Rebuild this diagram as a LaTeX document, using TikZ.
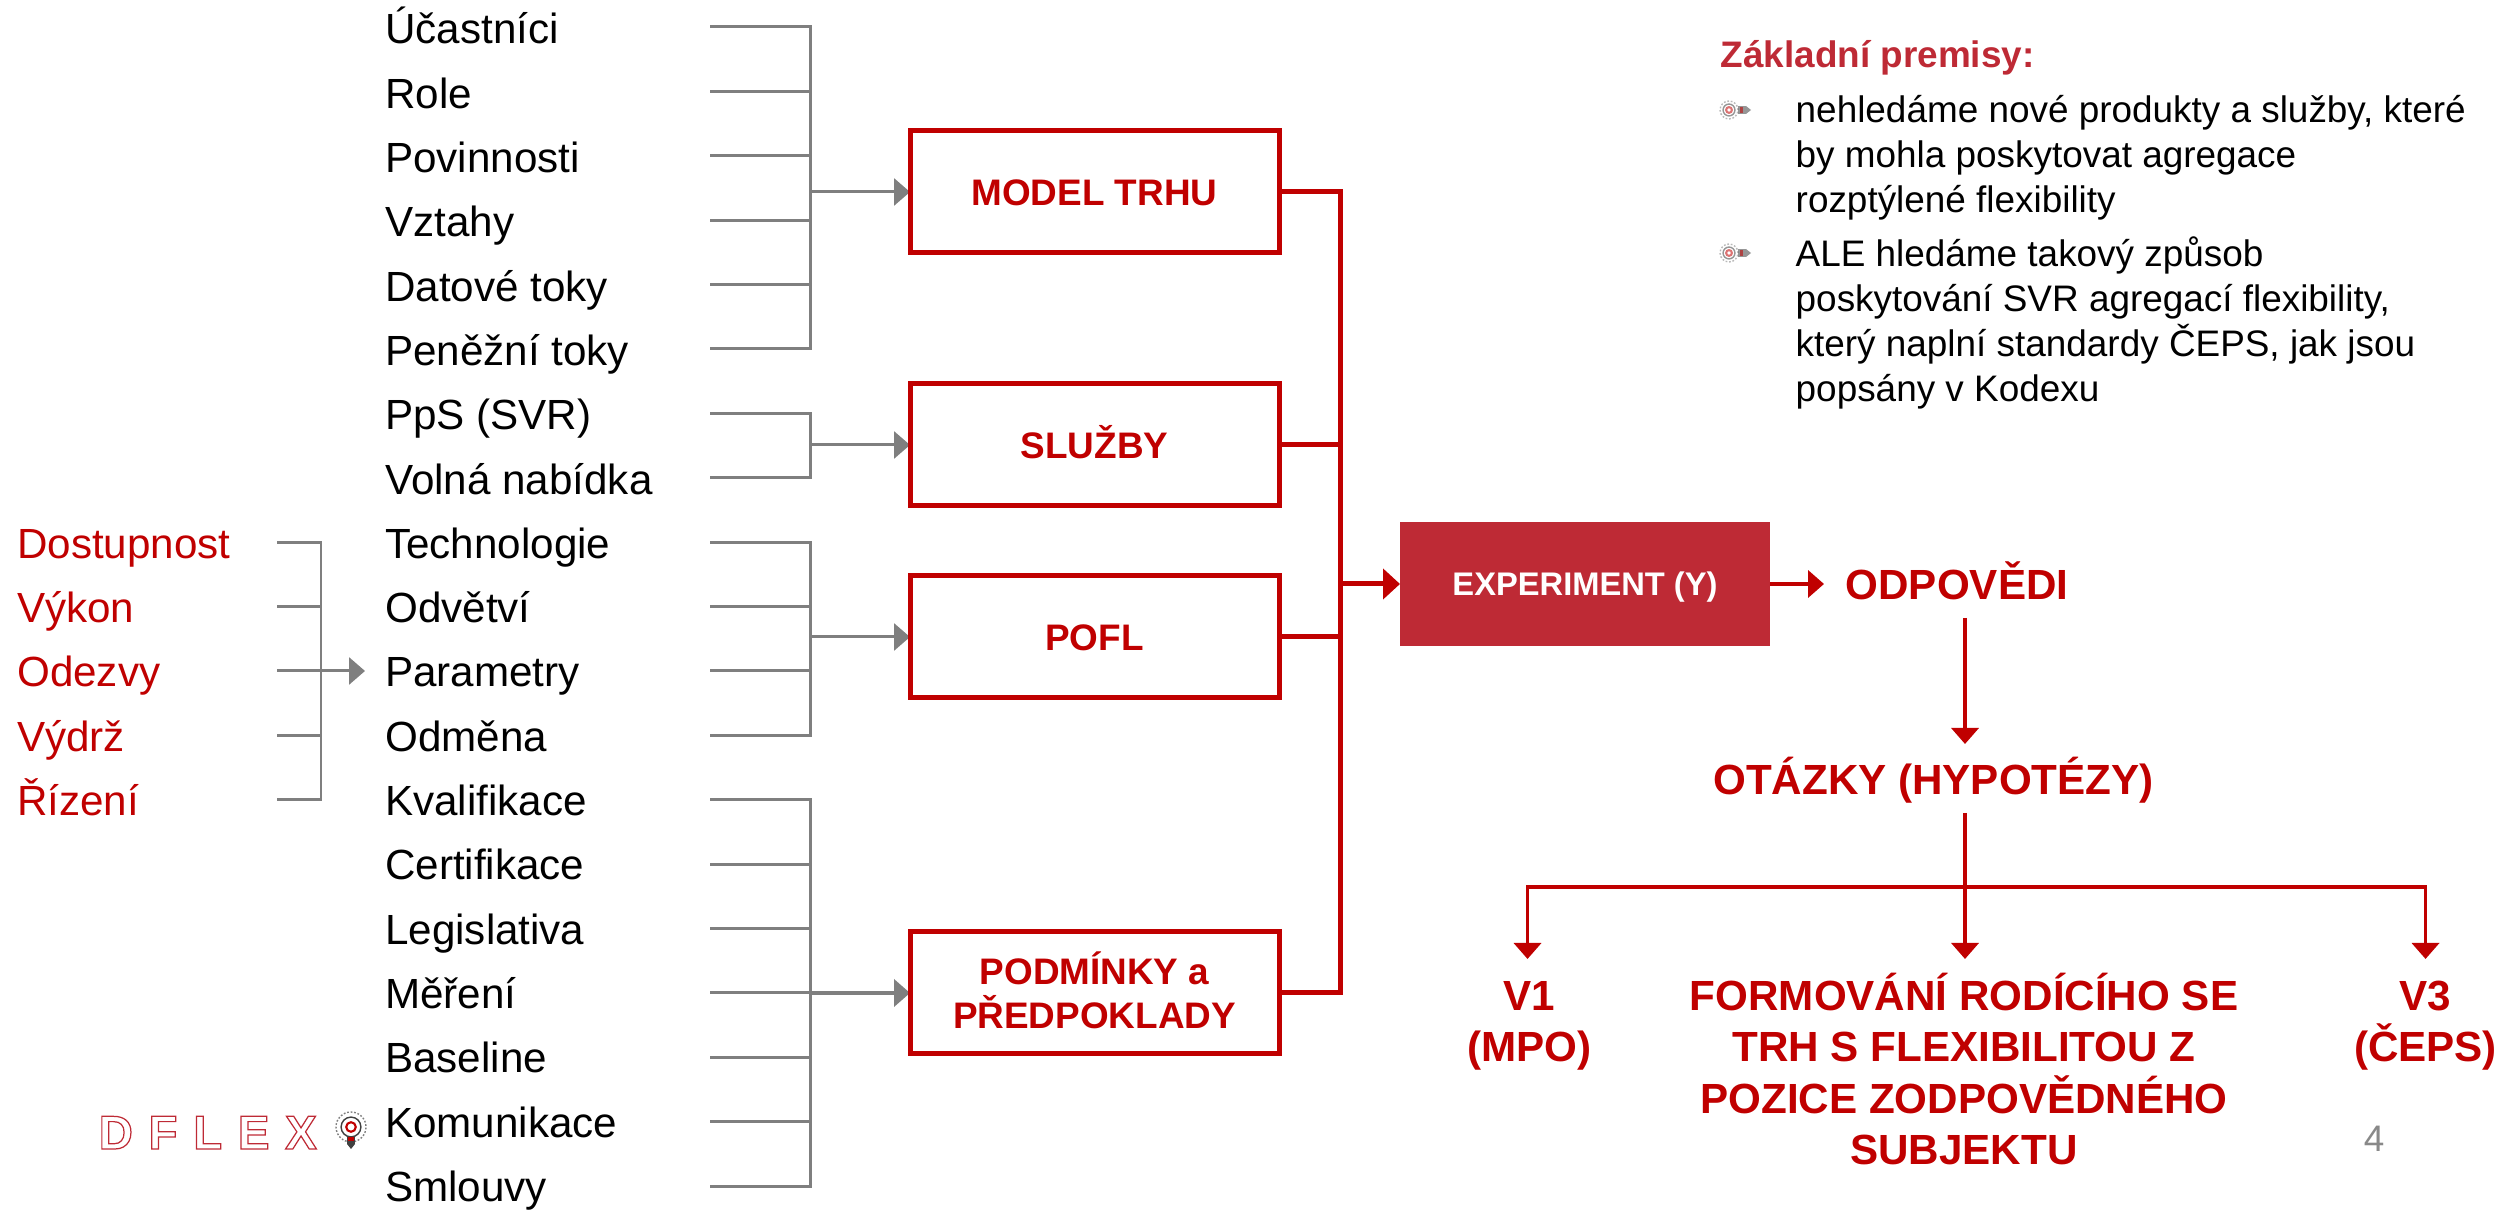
\documentclass[tikz,border=0pt]{standalone}
\usepackage{fontspec}
\setmainfont{Liberation Sans}
\usepackage{color}
\usepackage{tikz}
\usetikzlibrary{arrows.meta}
\pgfdeclarelayer{edgelayer}
\pgfdeclarelayer{nodelayer}
\pgfsetlayers{edgelayer,nodelayer,main}
\definecolor{darkred}{HTML}{C00000}
\definecolor{headred}{HTML}{BE2A35}
\definecolor{linegray}{HTML}{7F7F7F}
\definecolor{numgray}{HTML}{898989}
\tikzstyle{none}=[inner sep=0pt]
\tikzstyle{row}=[inner sep=0pt, anchor=base west, font=\fontsize{12}{14}\selectfont]
\tikzstyle{redrow}=[row, text=darkred]
\tikzstyle{redbox}=[inner sep=0pt, outer sep=0pt, draw=darkred, line width=1.42pt, text=darkred, align=center, text height=7.6pt, text depth=0pt, minimum width=3.69cm, minimum height=1.22cm, font=\fontsize{10.5}{12.3}\selectfont\bfseries]
\tikzstyle{answer}=[inner sep=0pt, align=center, text=darkred, font=\fontsize{12}{14.6}\selectfont\bfseries]
\tikzstyle{note}=[inner sep=0pt, anchor=north west, align=left, font=\fontsize{10.5}{12.8}\selectfont]
\tikzstyle{grayline}=[draw=linegray, line width=0.85pt]
\tikzstyle{grayarrow}=[grayline, -{Triangle[length=1.6mm,width=2.7mm]}]
\tikzstyle{redline}=[draw=darkred, line width=1.42pt, line cap=rect]
\tikzstyle{redarrow}=[draw=darkred, line width=1.42pt, -{Triangle[length=1.7mm,width=3mm]}]
\tikzstyle{thinred}=[draw=darkred, line width=1.05pt]
\tikzstyle{thinarrow}=[thinred, -{Triangle[length=1.6mm,width=2.7mm]}]
\tikzset{
	bulb/.pic={
		\draw [linegray, line width=0.4pt, dash pattern=on 0.5pt off 0.5pt] (0, 0) circle (#1);
		\draw [black!75, line width=0.4pt] (0, 0) circle ({0.66*#1});
		\draw [darkred, line width=0.6pt] (0, 0) circle ({0.32*#1});
		\fill [black!75] (0.09, -0.04) rectangle (0.17, 0.04);
		\fill [darkred] (0.105, -0.028) rectangle (0.14, 0.028);
		\fill [black!75] (0.17, -0.04) -- (0.22, 0) -- (0.17, 0.04) -- cycle;
	}
}

\begin{document}
\begin{tikzpicture}
	\useasboundingbox (0, 0) rectangle (25.06, 12.10);
	\begin{pgfonlayer}{nodelayer}
		\node [style=row] (0) at (3.845, 11.66) {Účastníci};
		\node [style=row] (1) at (3.845, 11.017) {Role};
		\node [style=row] (2) at (3.845, 10.374) {Povinnosti};
		\node [style=row] (3) at (3.845, 9.731) {Vztahy};
		\node [style=row] (4) at (3.845, 9.088) {Datové toky};
		\node [style=row] (5) at (3.845, 8.445) {Peněžní toky};
		\node [style=row] (6) at (3.845, 7.802) {PpS (SVR)};
		\node [style=row] (7) at (3.845, 7.159) {Volná nabídka};
		\node [style=row] (8) at (3.845, 6.516) {Technologie};
		\node [style=row] (9) at (3.845, 5.873) {Odvětví};
		\node [style=row] (10) at (3.845, 5.23) {Parametry};
		\node [style=row] (11) at (3.845, 4.587) {Odměna};
		\node [style=row] (12) at (3.845, 3.944) {Kvalifikace};
		\node [style=row] (13) at (3.845, 3.301) {Certifikace};
		\node [style=row] (14) at (3.845, 2.658) {Legislativa};
		\node [style=row] (15) at (3.845, 2.015) {Měření};
		\node [style=row] (16) at (3.845, 1.372) {Baseline};
		\node [style=row] (17) at (3.845, 0.729) {Komunikace};
		\node [style=row] (18) at (3.845, 0.086) {Smlouvy};
		\node [style=redrow] (19) at (0.165, 6.516) {Dostupnost};
		\node [style=redrow] (20) at (0.165, 5.873) {Výkon};
		\node [style=redrow] (21) at (0.165, 5.23) {Odezvy};
		\node [style=redrow] (22) at (0.165, 4.587) {Výdrž};
		\node [style=redrow] (23) at (0.165, 3.944) {Řízení};
		\node [style=redbox] (24) at (10.945, 10.18) {MODEL TRHU};
		\node [style=redbox] (25) at (10.945, 7.65) {SLUŽBY};
		\node [style=redbox] (26) at (10.945, 5.73) {POFL};
		\node [style=redbox, text height=20pt] (27) at (10.945, 2.17) {PODMÍNKY a\\PŘEDPOKLADY};
		\node [style=none, fill=headred, text=white, outer sep=0pt, text depth=0pt, minimum width=3.7cm, minimum height=1.24cm, font=\fontsize{9.3}{11}\selectfont\bfseries] (28) at (15.85, 6.26) {EXPERIMENT (Y)};
		\node [style=answer] (29) at (19.57, 6.29) {ODPOVĚDI};
		\node [style=answer] (30) at (19.335, 4.30) {OTÁZKY (HYPOTÉZY)};
		\node [style=answer] (31) at (15.295, 1.84) {V1\\(MPO)};
		\node [style=answer] (32) at (19.64, 1.41) {FORMOVÁNÍ RODÍCÍHO SE\\TRH S FLEXIBILITOU Z\\POZICE ZODPOVĚDNÉHO\\SUBJEKTU};
		\node [style=answer] (33) at (24.255, 1.84) {V3\\(ČEPS)};
		\node [style=none, anchor=base west, text=headred, font=\fontsize{10.5}{12.8}\selectfont\bfseries] (34) at (17.20, 11.42) {Základní premisy:};
		\node [style=note] (35) at (17.95, 11.15) {nehledáme nové produkty a služby, které\\by mohla poskytovat agregace\\rozptýlené flexibility};
		\node [style=note] (36) at (17.95, 9.74) {ALE hledáme takový způsob\\poskytování SVR agregací flexibility,\\který naplní standardy ČEPS, jak jsou\\popsány v Kodexu};
		\node [style=none, anchor=base, text=numgray, font=\fontsize{10.5}{12.8}\selectfont] (37) at (23.74, 0.58) {4};
		\node [style=none, anchor=base west, text=headred, font=\fontsize{13.5}{16}\selectfont\bfseries\addfontfeatures{LetterSpace=33}] (38) at (0.98, 0.61) {\special{pdf:code q 1 Tr 0.35 w}DFLEX\special{pdf:code Q}};
		\node [style=none] (40) at (7.10, 11.83) {};
		\node [style=none] (41) at (7.10, 11.186) {};
		\node [style=none] (42) at (7.10, 10.542) {};
		\node [style=none] (43) at (7.10, 9.898) {};
		\node [style=none] (44) at (7.10, 9.254) {};
		\node [style=none] (45) at (7.10, 8.61) {};
		\node [style=none] (46) at (7.10, 7.966) {};
		\node [style=none] (47) at (7.10, 7.322) {};
		\node [style=none] (48) at (7.10, 6.678) {};
		\node [style=none] (49) at (7.10, 6.034) {};
		\node [style=none] (50) at (7.10, 5.39) {};
		\node [style=none] (51) at (7.10, 4.746) {};
		\node [style=none] (52) at (7.10, 4.102) {};
		\node [style=none] (53) at (7.10, 3.458) {};
		\node [style=none] (54) at (7.10, 2.814) {};
		\node [style=none] (55) at (7.10, 2.17) {};
		\node [style=none] (56) at (7.10, 1.526) {};
		\node [style=none] (57) at (7.10, 0.882) {};
		\node [style=none] (58) at (7.10, 0.238) {};
		\node [style=none] (60) at (8.10, 11.83) {};
		\node [style=none] (61) at (8.10, 11.186) {};
		\node [style=none] (62) at (8.10, 10.542) {};
		\node [style=none] (63) at (8.10, 9.898) {};
		\node [style=none] (64) at (8.10, 9.254) {};
		\node [style=none] (65) at (8.10, 8.61) {};
		\node [style=none] (66) at (8.10, 7.966) {};
		\node [style=none] (67) at (8.10, 7.322) {};
		\node [style=none] (68) at (8.10, 6.678) {};
		\node [style=none] (69) at (8.10, 6.034) {};
		\node [style=none] (70) at (8.10, 5.39) {};
		\node [style=none] (71) at (8.10, 4.746) {};
		\node [style=none] (72) at (8.10, 4.102) {};
		\node [style=none] (73) at (8.10, 3.458) {};
		\node [style=none] (74) at (8.10, 2.814) {};
		\node [style=none] (75) at (8.10, 2.17) {};
		\node [style=none] (76) at (8.10, 1.526) {};
		\node [style=none] (77) at (8.10, 0.882) {};
		\node [style=none] (78) at (8.10, 0.238) {};
		\node [style=none] (80) at (2.77, 6.678) {};
		\node [style=none] (81) at (2.77, 6.034) {};
		\node [style=none] (82) at (2.77, 5.39) {};
		\node [style=none] (83) at (2.77, 4.746) {};
		\node [style=none] (84) at (2.77, 4.102) {};
		\node [style=none] (85) at (3.21, 6.678) {};
		\node [style=none] (86) at (3.21, 6.034) {};
		\node [style=none] (87) at (3.21, 5.39) {};
		\node [style=none] (88) at (3.21, 4.746) {};
		\node [style=none] (89) at (3.21, 4.102) {};
		\node [style=none] (90) at (8.10, 10.18) {};
		\node [style=none] (91) at (8.10, 7.65) {};
		\node [style=none] (92) at (8.10, 5.73) {};
		\node [style=none] (94) at (3.65, 5.39) {};
		\node [style=none] (95) at (13.40, 10.18) {};
		\node [style=none] (96) at (13.40, 7.65) {};
		\node [style=none] (97) at (13.40, 5.73) {};
		\node [style=none] (98) at (13.40, 2.17) {};
		\node [style=none] (99) at (13.40, 6.26) {};
		\node [style=none] (100) at (18.24, 6.26) {};
		\node [style=none] (101) at (19.65, 5.92) {};
		\node [style=none] (102) at (19.65, 4.66) {};
		\node [style=none] (103) at (19.65, 3.97) {};
		\node [style=none] (104) at (19.65, 3.23) {};
		\node [style=none] (105) at (15.275, 3.23) {};
		\node [style=none] (106) at (24.255, 3.23) {};
		\node [style=none] (107) at (15.275, 2.51) {};
		\node [style=none] (108) at (19.65, 2.51) {};
		\node [style=none] (109) at (24.255, 2.51) {};
		\pic [opacity=0.55] at (17.29, 11.00) {bulb=0.09};
		\pic [opacity=0.55] at (17.29, 9.57) {bulb=0.09};
		\pic [rotate=-90] at (3.51, 0.83) {bulb=0.15};
	\end{pgfonlayer}
	\begin{pgfonlayer}{edgelayer}
		\draw [style=grayline] (40.center) to (60.center);
		\draw [style=grayline] (41.center) to (61.center);
		\draw [style=grayline] (42.center) to (62.center);
		\draw [style=grayline] (43.center) to (63.center);
		\draw [style=grayline] (44.center) to (64.center);
		\draw [style=grayline] (45.center) to (65.center);
		\draw [style=grayline] (46.center) to (66.center);
		\draw [style=grayline] (47.center) to (67.center);
		\draw [style=grayline] (48.center) to (68.center);
		\draw [style=grayline] (49.center) to (69.center);
		\draw [style=grayline] (50.center) to (70.center);
		\draw [style=grayline] (51.center) to (71.center);
		\draw [style=grayline] (52.center) to (72.center);
		\draw [style=grayline] (53.center) to (73.center);
		\draw [style=grayline] (54.center) to (74.center);
		\draw [style=grayline] (55.center) to (75.center);
		\draw [style=grayline] (56.center) to (76.center);
		\draw [style=grayline] (57.center) to (77.center);
		\draw [style=grayline] (58.center) to (78.center);
		\draw [style=grayline, line cap=rect] (60.center) to (65.center);
		\draw [style=grayline, line cap=rect] (66.center) to (67.center);
		\draw [style=grayline, line cap=rect] (68.center) to (71.center);
		\draw [style=grayline, line cap=rect] (72.center) to (78.center);
		\draw [style=grayline] (80.center) to (85.center);
		\draw [style=grayline] (81.center) to (86.center);
		\draw [style=grayline] (82.center) to (87.center);
		\draw [style=grayline] (83.center) to (88.center);
		\draw [style=grayline] (84.center) to (89.center);
		\draw [style=grayline, line cap=rect] (85.center) to (89.center);
		\draw [style=grayarrow] (87.center) to (94.center);
		\draw [style=grayarrow] (90.center) to (24.west);
		\draw [style=grayarrow] (91.center) to (25.west);
		\draw [style=grayarrow] (92.center) to (26.west);
		\draw [style=grayarrow, line width=1.1pt] (75.center) to (27.west);
		\draw [style=redline] (24.east) to (95.center);
		\draw [style=redline] (25.east) to (96.center);
		\draw [style=redline] (26.east) to (97.center);
		\draw [style=redline] (27.east) to (98.center);
		\draw [style=redline] (95.center) to (98.center);
		\draw [style=redarrow] (99.center) to (28.west);
		\draw [style=thinarrow] (28.east) to (100.center);
		\draw [style=thinarrow] (101.center) to (102.center);
		\draw [style=thinred] (103.center) to (104.center);
		\draw [style=thinred, line cap=rect] (105.center) to (106.center);
		\draw [style=thinarrow] (105.center) to (107.center);
		\draw [style=thinarrow] (104.center) to (108.center);
		\draw [style=thinarrow] (106.center) to (109.center);
	\end{pgfonlayer}
\end{tikzpicture}
\end{document}
